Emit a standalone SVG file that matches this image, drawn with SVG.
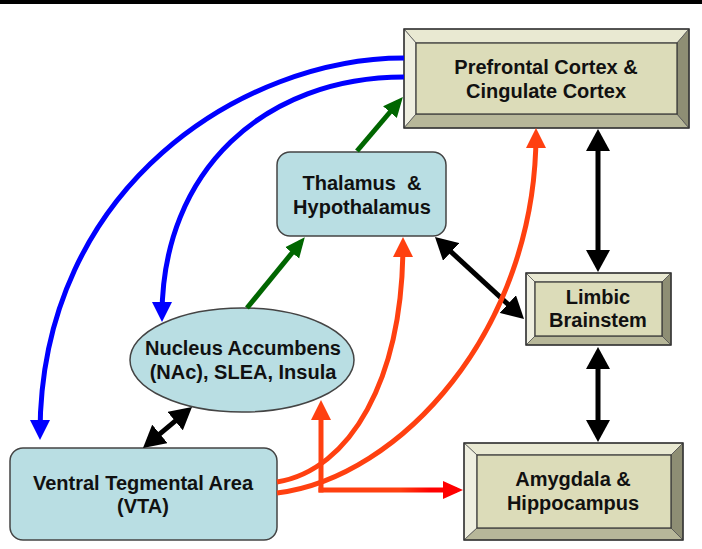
<svg xmlns="http://www.w3.org/2000/svg" width="702" height="549" viewBox="0 0 702 549">
<style>
.lbl{font-family:"Liberation Sans",Arial,sans-serif;font-weight:bold;font-size:20px;fill:#111;text-anchor:middle}
.soft{fill:#b9dee3;stroke:#444;stroke-width:1.5}
.face{fill:#dcdcb9;stroke:#333;stroke-width:1.2}
.bt{fill:#e9e9d2;stroke:#555;stroke-width:0.8}
.bl{fill:#efefe0;stroke:#555;stroke-width:0.8}
.bb{fill:#b7b799;stroke:#555;stroke-width:0.8}
.br{fill:#8e8e74;stroke:#555;stroke-width:0.8}
.outer{fill:none;stroke:#333;stroke-width:1.5}
.c{fill:none;stroke-width:5}
</style>
<defs>
<marker id="hBlue" viewBox="0 0 20 20" refX="14" refY="10" markerWidth="20" markerHeight="20" markerUnits="userSpaceOnUse" orient="auto"><path d="M0,0 L20,10 L0,20 z" fill="#0000ff"/></marker>
<marker id="hGreen" viewBox="0 0 20 20" refX="14" refY="10" markerWidth="20" markerHeight="20" markerUnits="userSpaceOnUse" orient="auto"><path d="M0,1 L20,10 L0,19 z" fill="#006600"/></marker>
<marker id="hOrange" viewBox="0 0 20 20" refX="14" refY="10" markerWidth="20" markerHeight="20" markerUnits="userSpaceOnUse" orient="auto"><path d="M0,0 L20,10 L0,20 z" fill="#ff4010"/></marker>
<marker id="hRed" viewBox="0 0 20 20" refX="14" refY="10" markerWidth="20" markerHeight="20" markerUnits="userSpaceOnUse" orient="auto"><path d="M0,1 L20,10 L0,19 z" fill="#ff0000"/></marker>
<marker id="hBlack" viewBox="0 0 22 24" refX="16" refY="12" markerWidth="22" markerHeight="24" markerUnits="userSpaceOnUse" orient="auto-start-reverse"><path d="M0,0 L22,12 L0,24 z" fill="#000"/></marker>
<linearGradient id="gRed" gradientUnits="userSpaceOnUse" x1="400" y1="0" x2="430" y2="0"><stop offset="0" stop-color="#ff4010"/><stop offset="1" stop-color="#ff0000"/></linearGradient>
</defs>
<rect x="0" y="0" width="702" height="4" fill="#000"/>

<g id="prefrontal">
<polygon class="bt" points="404,29 689,29 677,43 416,43"/>
<polygon class="bl" points="404,29 416,43 416,114 404,128"/>
<polygon class="bb" points="404,128 416,114 677,114 689,128"/>
<polygon class="br" points="689,29 689,128 677,114 677,43"/>
<rect class="face" x="416" y="43" width="261" height="71"/>
<rect class="outer" x="404" y="29" width="285" height="99"/>
<text class="lbl" x="546" y="74">Prefrontal Cortex &amp;</text>
<text class="lbl" x="546" y="98">Cingulate Cortex</text>
</g>

<g id="thalamus">
<rect class="soft" x="277" y="152" width="169" height="84" rx="13"/>
<text class="lbl" x="362" y="190" xml:space="preserve">Thalamus  &amp;</text>
<text class="lbl" x="362" y="214">Hypothalamus</text>
</g>

<g id="limbic">
<polygon class="bt" points="526,273 671,273 662,282 535,282"/>
<polygon class="bl" points="526,273 535,282 535,336 526,345"/>
<polygon class="bb" points="526,345 535,336 662,336 671,345"/>
<polygon class="br" points="671,273 671,345 662,336 662,282"/>
<rect class="face" x="535" y="282" width="127" height="54"/>
<rect class="outer" x="526" y="273" width="145" height="72"/>
<text class="lbl" x="598" y="304">Limbic</text>
<text class="lbl" x="598" y="327">Brainstem</text>
</g>

<g id="nac">
<ellipse class="soft" cx="242" cy="360" rx="112" ry="52"/>
<text class="lbl" x="243" y="355">Nucleus Accumbens</text>
<text class="lbl" x="243" y="379">(NAc), SLEA, Insula</text>
</g>

<g id="vta">
<rect class="soft" x="10" y="448" width="267" height="92" rx="13"/>
<text class="lbl" x="143" y="490">Ventral Tegmental Area</text>
<text class="lbl" x="143" y="513">(VTA)</text>
</g>

<g id="amygdala">
<polygon class="bt" points="464,443 683,443 671,455 477,455"/>
<polygon class="bl" points="464,443 477,455 477,528 464,540"/>
<polygon class="bb" points="464,540 477,528 671,528 683,540"/>
<polygon class="br" points="683,443 683,540 671,528 671,455"/>
<rect class="face" x="477" y="455" width="194" height="73"/>
<rect class="outer" x="464" y="443" width="219" height="97"/>
<text class="lbl" x="573" y="486">Amygdala &amp;</text>
<text class="lbl" x="573" y="510">Hippocampus</text>
</g>

<g id="connectors">
<path class="c" stroke="#0000ff" d="M404,58 C245,58 40,185 40,434" marker-end="url(#hBlue)"/>
<path class="c" stroke="#0000ff" d="M404,77 C265,77 162,170 162,316" marker-end="url(#hBlue)"/>
<path class="c" stroke="#006600" d="M247,308 L301,242" marker-end="url(#hGreen)"/>
<path class="c" stroke="#006600" d="M357,151 L399,101.5" marker-end="url(#hGreen)"/>
<path class="c" stroke="#000" d="M147.6,444.1 L187.4,410.9" marker-start="url(#hBlack)" marker-end="url(#hBlack)"/>
<path class="c" stroke="#000" d="M439.4,241.1 L519.6,314.9" marker-start="url(#hBlack)" marker-end="url(#hBlack)"/>
<path class="c" stroke="#000" d="M598,135 L598,266" marker-start="url(#hBlack)" marker-end="url(#hBlack)"/>
<path class="c" stroke="#000" d="M598,353 L598,436" marker-start="url(#hBlack)" marker-end="url(#hBlack)"/>
<path class="c" stroke="#ff4010" d="M277,482 C350,470 403,380 403,243" marker-end="url(#hOrange)"/>
<path class="c" stroke="#ff4010" d="M277,493 C400,478 536,330 536,134" marker-end="url(#hOrange)"/>
<path class="c" stroke="#ff4010" d="M321,492.5 L321,406" marker-end="url(#hOrange)"/>
<path class="c" stroke="url(#gRed)" d="M318.5,490 L457,490" marker-end="url(#hRed)"/>
</g>
</svg>
